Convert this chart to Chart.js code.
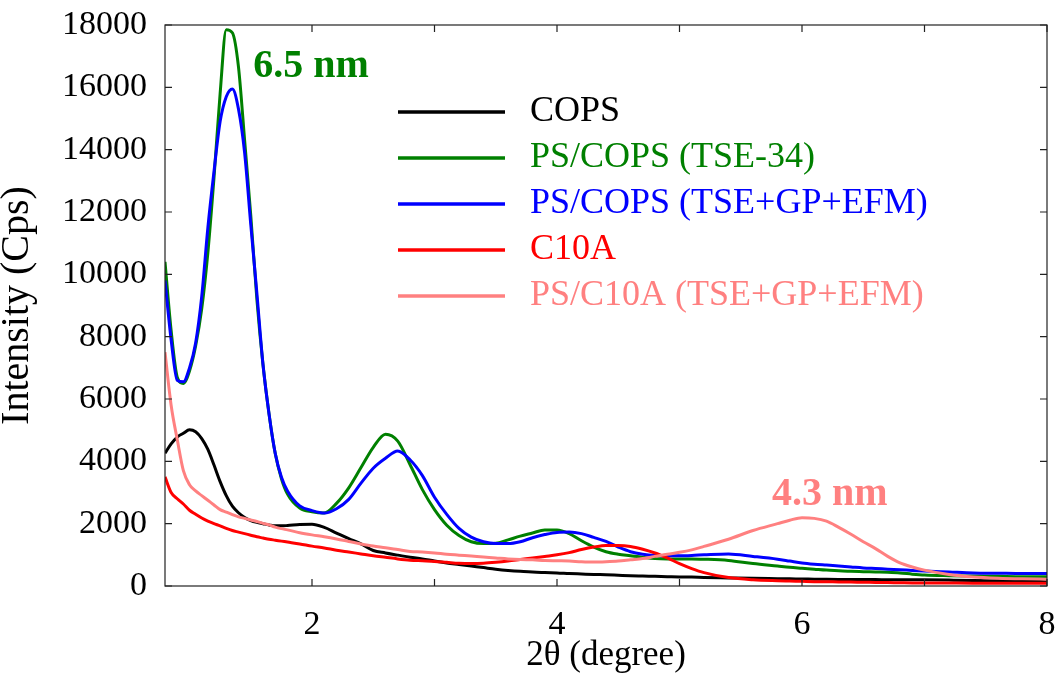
<!DOCTYPE html>
<html><head><meta charset="utf-8">
<script src="https://cdn.jsdelivr.net/npm/chart.js@4.4.1/dist/chart.umd.min.js"></script>
<style>html,body{margin:0;padding:0;background:#fff}#wrap{width:1056px;height:681px}</style>
</head><body><div id="wrap"><canvas id="c" width="1056" height="681"></canvas></div>
<script>
// 2θ (degree) sample positions
const twoTheta = [0.80,0.85,0.90,0.95,1.00,1.05,1.10,1.15,1.20,1.25,1.30,1.35,1.40,1.45,1.50,1.55,1.60,1.65,1.70,1.75,1.80,
  1.90,2.00,2.10,2.20,2.30,2.40,2.50,2.60,2.70,2.80,2.90,3.00,3.10,3.20,3.30,3.40,3.50,3.60,3.70,3.80,3.90,4.00,4.10,4.20,4.30,4.40,4.50,4.60,4.70,4.80,4.90,5.00,5.10,5.20,
  5.40,5.60,5.80,5.90,6.00,6.10,6.20,6.30,6.40,6.50,6.60,6.70,6.80,6.90,7.00,7.20,7.40,7.60,7.80,8.00];

const copsIntensity = [4260,4560,4780,4900,5010,4950,4730,4380,3880,3350,2900,2560,2350,2200,2100,2040,2000,1960,1930,1930,1940,
  1970,1980,1880,1700,1520,1350,1140,1060,990,920,870,800,740,690,640,590,540,500,470,450,430,420,400,385,370,360,345,330,320,310,300,290,285,275,
  260,245,235,230,225,220,215,212,210,208,205,203,200,200,198,190,180,165,150,140];

const psCopsTse34 = [10400,8200,6700,6500,6900,7700,8900,10700,13100,15800,17850,17750,16650,14300,11900,9200,7100,5500,4250,3450,2950,
  2500,2380,2340,2650,3150,3800,4450,4870,4650,3900,3100,2450,1950,1620,1420,1360,1370,1480,1600,1700,1800,1800,1680,1450,1250,1100,1020,970,920,880,870,870,870,860,
  820,720,640,600,570,540,510,490,470,460,450,440,420,380,350,330,320,310,300,300];

const psCopsTseGpEfm = [9800,7900,6600,6550,7000,7800,9300,11500,13300,14900,15700,15950,15300,13900,11600,9400,7100,5500,4250,3500,3050,
  2570,2420,2340,2480,2780,3300,3780,4100,4330,4050,3550,2850,2300,1850,1570,1420,1360,1360,1420,1550,1650,1720,1730,1680,1560,1430,1250,1100,1020,980,970,970,980,1000,
  1030,950,860,800,740,700,670,640,610,580,560,540,520,500,480,450,420,410,400,400];

const c10aIntensity = [3500,3000,2800,2630,2430,2300,2180,2080,2000,1930,1850,1780,1730,1680,1630,1580,1540,1500,1470,1440,1410,
  1350,1280,1220,1150,1090,1030,970,920,870,830,810,790,760,730,720,730,760,800,850,900,950,1000,1070,1170,1250,1300,1300,1270,1180,1060,900,720,560,430,
  270,200,170,160,150,140,135,130,125,120,115,110,105,100,100,95,90,90,85,85];

const psC10aTseGpEfm = [7500,5800,4700,3700,3250,3050,2900,2750,2600,2450,2370,2290,2220,2170,2120,2070,2010,1960,1890,1840,1800,
  1710,1640,1580,1510,1430,1350,1280,1230,1170,1110,1090,1060,1020,990,960,930,900,870,850,840,820,810,800,780,770,780,800,840,880,950,1020,1080,1160,1270,
  1500,1780,2000,2110,2190,2170,2080,1880,1660,1420,1200,950,740,610,510,370,290,250,230,220];

const seriesLabels = ['COPS','PS/COPS (TSE-34)','PS/COPS (TSE+GP+EFM)','C10A','PS/C10A (TSE+GP+EFM)'];
const seriesValues = [copsIntensity, psCopsTse34, psCopsTseGpEfm, c10aIntensity, psC10aTseGpEfm];
const seriesColors = ['#000000','#008000','#0000ff','#ff0000','#ff8080'];
const drawOrder = [5,4,3,2,1];

const yMin = 0, yMax = 18000, yStep = 2000;
const xMin = 0.8, xMax = 8, xStep = 1;

const annotations = [
  {text:'6.5 nm', x:1.52, y:16330, color:'#008000'},
  {text:'4.3 nm', x:5.755, y:2600, color:'#ff8080'}
];

const SERIF = '"Liberation Serif", "Times New Roman", serif';

const framePlugin = {
  id:'frame',
  afterDatasetsDraw(chart){
    const {ctx, chartArea:a, scales:{x,y}} = chart;
    const L = 7;
    ctx.save();
    ctx.strokeStyle = '#222'; ctx.lineWidth = 1.2;
    ctx.strokeRect(a.left, a.top, a.right-a.left, a.bottom-a.top);
    ctx.beginPath();
    x.ticks.forEach(t=>{
      if(!Number.isInteger(t.value)) return;
      const p = x.getPixelForValue(t.value);
      ctx.moveTo(p, a.bottom); ctx.lineTo(p, a.bottom-L);
      ctx.moveTo(p, a.top); ctx.lineTo(p, a.top+L);
    });
    y.ticks.forEach(t=>{
      const p = y.getPixelForValue(t.value);
      ctx.moveTo(a.left, p); ctx.lineTo(a.left+L, p);
      ctx.moveTo(a.right, p); ctx.lineTo(a.right-L, p);
    });
    ctx.stroke();
    ctx.restore();
  }
};

const textPlugin = {
  id:'texts',
  afterDraw(chart){
    const {ctx, scales:{x,y}} = chart;
    ctx.save();
    // annotations
    ctx.font = 'bold 40px ' + SERIF;
    ctx.textBaseline = 'alphabetic'; ctx.textAlign = 'left';
    annotations.forEach(an=>{
      ctx.fillStyle = an.color;
      ctx.fillText(an.text, x.getPixelForValue(an.x), y.getPixelForValue(an.y));
    });
    // legend
    ctx.font = '36px ' + SERIF;
    ctx.textBaseline = 'middle';
    chart.data.datasets.forEach((ds,i)=>{
      const yy = 112 + i*46;
      ctx.strokeStyle = ds.borderColor; ctx.lineWidth = 3.5;
      ctx.beginPath(); ctx.moveTo(398, yy); ctx.lineTo(505, yy); ctx.stroke();
      ctx.fillStyle = ds.borderColor;
      ctx.fillText(ds.label, 530, yy);
    });
    ctx.restore();
  }
};

function zeroPad(s){ s.paddingTop = 0; s.paddingBottom = 0; s.paddingLeft = 0; s.paddingRight = 0; }

new Chart(document.getElementById('c'), {
  type:'line',
  data:{
    datasets: seriesLabels.map((lab,i)=>({
      label: lab,
      data: twoTheta.map((t,j)=>({x:t, y:seriesValues[i][j]})),
      borderColor: seriesColors[i],
      backgroundColor: seriesColors[i],
      borderWidth: 3,
      pointRadius: 0,
      cubicInterpolationMode: 'monotone',
      fill: false,
      order: drawOrder[i]
    }))
  },
  options:{
    responsive:false,
    animation:false,
    devicePixelRatio:1,
    layout:{padding:{top:25,right:9,left:0,bottom:0}},
    plugins:{legend:{display:false}, tooltip:{enabled:false}},
    scales:{
      x:{
        type:'linear', min:xMin, max:xMax,
        grid:{display:false, drawTicks:false}, border:{display:false},
        ticks:{stepSize:xStep, autoSkip:false, maxRotation:0, padding:19, color:'#000',
          font:{family:SERIF, size:34},
          callback:(v)=> (Number.isInteger(v) && v%2===0) ? String(v) : ''},
        title:{display:true, text:'2θ (degree)', color:'#000', font:{family:SERIF, size:35, lineHeight:1.2}, padding:{top:0,bottom:4}},
        afterFit(s){ s.height = 95; zeroPad(s); }
      },
      y:{
        min:yMin, max:yMax,
        grid:{display:false, drawTicks:false}, border:{display:false},
        ticks:{stepSize:yStep, padding:18, color:'#000', font:{family:SERIF, size:34},
          callback:(v)=> String(v)},
        title:{display:true, text:'Intensity (Cps)', color:'#000', font:{family:SERIF, size:40, lineHeight:0.85}, padding:{top:0,bottom:0}},
        afterFit(s){ s.width = 165; zeroPad(s); }
      }
    }
  },
  plugins:[framePlugin, textPlugin]
});
</script></body></html>
